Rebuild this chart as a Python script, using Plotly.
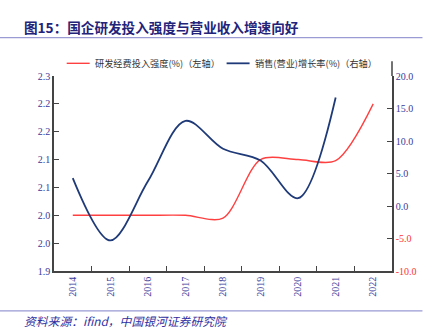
import plotly.graph_objects as go

years = ["2014", "2015", "2016", "2017", "2018", "2019", "2020", "2021", "2022"]
rd_intensity = [2.00, 2.00, 2.00, 2.00, 1.995, 2.10, 2.10, 2.098, 2.20]
sales_growth = [4.3, -5.3, 3.8, 13.1, 8.8, 7.0, 1.2, 16.7]

left_vals = [1.90, 1.95, 2.00, 2.05, 2.10, 2.15, 2.20, 2.25]
left_text = ["1.9", "2.0", "2.0", "2.1", "2.1", "2.2", "2.2", "2.3"]
right_vals = [-10, -5, 0, 5, 10, 15, 20]
right_text = ["-10.0", "-5.0", "0.0", "5.0", "10.0", "15.0", "20.0"]

RED = "#ff4040"
NAVY = "#1f3a78"
TICK_BLUE = "#3a3a9a"
NEG_RED = "#ff3333"
AXIS = "#444444"
SERIF = "Liberation Serif, Times New Roman, serif"
CJK = "Noto Sans CJK SC, sans-serif"

W, H = 437, 334
L, R, T, B = 54.3, 392.5, 75.7, 271.0


def px(x):
    return (x - L) / (R - L)


def py(y):
    return (B - y) / (B - T)


fig = go.Figure()
fig.add_trace(go.Scatter(
    x=years, y=rd_intensity, mode="lines", name="研发经费投入强度(%)（左轴）",
    line=dict(color=RED, width=1.4, shape="spline", smoothing=0.85),
    yaxis="y", showlegend=False,
))
fig.add_trace(go.Scatter(
    x=years[:len(sales_growth)], y=sales_growth, mode="lines",
    name="销售(营业)增长率(%)（右轴）",
    line=dict(color=NAVY, width=1.8, shape="spline", smoothing=0.95),
    yaxis="y2", showlegend=False,
))

right_ticktext = [
    f'<span style="color:{NEG_RED}">{t}</span>' if v < 0 else t
    for v, t in zip(right_vals, right_text)
]

fig.update_layout(
    width=W, height=H,
    margin=dict(l=L, r=W - R, t=T, b=H - B, pad=0),
    paper_bgcolor="white", plot_bgcolor="white",
    xaxis=dict(
        type="category", categoryorder="array", categoryarray=years,
        range=[-0.5, len(years) - 0.5],
        tickson="boundaries", ticks="inside", ticklen=5, tickcolor=AXIS,
        showline=True, linecolor=AXIS, linewidth=1.5, showgrid=False,
        tickangle=-90, tickfont=dict(family=SERIF, size=10, color=TICK_BLUE),
        zeroline=False,
    ),
    yaxis=dict(
        range=[1.90, 2.25], tickvals=left_vals, ticktext=left_text,
        ticks="inside", ticklen=5, tickcolor=AXIS,
        showline=True, linecolor=AXIS, linewidth=1.5, showgrid=False,
        zeroline=False, tickfont=dict(family=SERIF, size=10, color=TICK_BLUE),
    ),
    yaxis2=dict(
        range=[-10, 20], tickvals=right_vals, ticktext=right_ticktext,
        overlaying="y", side="right",
        ticks="inside", ticklen=5, tickcolor=AXIS,
        showline=True, linecolor=AXIS, linewidth=1.5, showgrid=False,
        zeroline=False, tickfont=dict(family=SERIF, size=10, color=TICK_BLUE),
    ),
)

shapes = [
    # rule under the title
    dict(type="line", xref="paper", yref="paper", x0=px(0), x1=px(423),
         y0=py(37.3), y1=py(37.3), line=dict(color="#9a9ad4", width=1.2)),
    # rule above the source note
    dict(type="line", xref="paper", yref="paper", x0=px(0), x1=px(423),
         y0=py(311), y1=py(311), line=dict(color="#9a9ad4", width=1.2)),
    # right axis extends a little above the plot
    dict(type="line", xref="paper", yref="paper", x0=1, x1=1,
         y0=1, y1=py(61), line=dict(color=AXIS, width=1.5)),
    # legend samples
    dict(type="line", xref="paper", yref="paper", x0=px(67), x1=px(90),
         y0=py(63), y1=py(63), line=dict(color=RED, width=1.4)),
    dict(type="line", xref="paper", yref="paper", x0=px(227), x1=px(250),
         y0=py(63), y1=py(63), line=dict(color=NAVY, width=1.8)),
]
fig.update_layout(shapes=shapes)

annotations = [
    dict(text="<b>图15：国企研发投入强度与营业收入增速向好</b>",
         xref="paper", yref="paper", x=px(22), y=py(26.5),
         xanchor="left", yanchor="middle", showarrow=False,
         font=dict(family=CJK, size=13.6, color="#23237a")),
    dict(text="研发经费投入强度(%)（左轴）",
         xref="paper", yref="paper", x=px(93), y=py(63),
         xanchor="left", yanchor="middle", showarrow=False,
         font=dict(family=CJK, size=9.2, color="#333333")),
    dict(text="销售(营业)增长率(%)（右轴）",
         xref="paper", yref="paper", x=px(253), y=py(63),
         xanchor="left", yanchor="middle", showarrow=False,
         font=dict(family=CJK, size=9.2, color="#333333")),
    dict(text="<i>资料来源：ifind，中国银河证券研究院</i>",
         xref="paper", yref="paper", x=px(22), y=py(320.5),
         xanchor="left", yanchor="middle", showarrow=False,
         font=dict(family=CJK, size=11.8, color="#3030a0")),
]
fig.update_layout(annotations=annotations)

fig.write_html("out.html")
